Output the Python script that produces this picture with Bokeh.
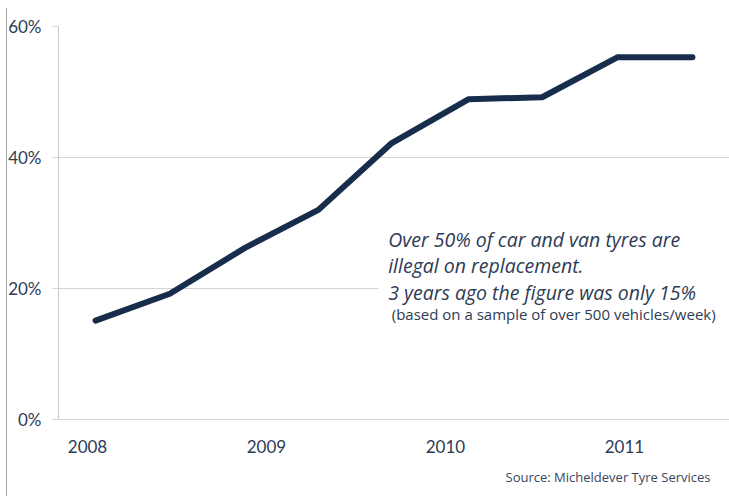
from bokeh.plotting import figure
from bokeh.models import Range1d, FixedTicker, Label, BoxAnnotation, Title
from bokeh.embed import file_html
from bokeh.resources import INLINE

# data
period_x = [2008.045, 2008.46, 2008.88, 2009.29, 2009.70, 2010.13, 2010.54, 2010.96, 2011.38]
illegal_pct = [15.1, 19.2, 26.2, 32.0, 42.2, 48.9, 49.2, 55.3, 55.3]
year_ticks = [2008, 2009, 2010, 2011]
year_labels = ["2008", "2009", "2010", "2011"]
pct_ticks = [0, 20, 40, 60]
pct_labels = ["0%", "20%", "40%", "60%"]
note_lines = ["Over 50% of car and van tyres are",
              "illegal on replacement.",
              "3 years ago the figure was only 15%"]
note_small = "(based on a sample of over 500 vehicles/week)"
source_text = "Source: Micheldever Tyre Services"

TEXT = "#2e3b55"
FONT = "Lato"
NOTE_FONT = "Open Sans"

p = figure(width=729, height=496, output_backend="svg", toolbar_location=None,
           x_range=Range1d(2007.838, 2011.587), y_range=Range1d(0, 60),
           min_border_left=58, min_border_top=26, min_border_bottom=77,
           min_border_right=0)
p.outline_line_color = None
p.background_fill_color = "white"
p.border_fill_color = None
p.styles = {"background": "linear-gradient(#a6a6a6,#a6a6a6) 6px 8px / 1px 100% no-repeat, white"}

p.xgrid.visible = False
p.ygrid.grid_line_color = "#d4d4d4"
p.ygrid.grid_line_width = 1

p.yaxis.ticker = FixedTicker(ticks=pct_ticks)
p.yaxis.major_label_overrides = {t: l for t, l in zip(pct_ticks, pct_labels)}
p.yaxis.axis_line_color = "#c8c8c8"
p.yaxis.major_tick_line_color = "#d4d4d4"
p.yaxis.major_tick_out = 6
p.yaxis.major_tick_in = 0
p.yaxis.minor_tick_line_color = None
p.yaxis.major_label_standoff = 11
p.yaxis.major_label_text_font = FONT
p.yaxis.major_label_text_font_size = "17px"
p.yaxis.major_label_text_color = TEXT

p.xaxis.ticker = FixedTicker(ticks=year_ticks)
p.xaxis.major_label_overrides = {t: l for t, l in zip(year_ticks, year_labels)}
p.xaxis.axis_line_color = "#d4d4d4"
p.xaxis.major_tick_line_color = None
p.xaxis.minor_tick_line_color = None
p.xaxis.major_label_standoff = 14
p.xaxis.major_label_text_font = FONT
p.xaxis.major_label_text_font_size = "17px"
p.xaxis.major_label_text_color = TEXT

p.line(period_x, illegal_pct, line_color="#172d4b", line_width=6,
       line_cap="round", line_join="round")

# white box behind the note (hides the 20% gridline there)
p.add_layout(BoxAnnotation(left=2009.626, bottom=18.9, top=21.0,
                           fill_color="white", fill_alpha=1.0, line_alpha=0))

ys = [27.48, 23.51, 19.39]
for txt, yy in zip(note_lines, ys):
    p.add_layout(Label(x=2009.68, y=yy, text=txt, text_font=NOTE_FONT,
                       text_font_style="italic", text_font_size="19.5px",
                       text_color=TEXT, text_baseline="alphabetic"))
p.add_layout(Label(x=2009.70, y=16.18, text=note_small, text_font=NOTE_FONT,
                   text_font_size="15px", text_color=TEXT,
                   text_baseline="alphabetic"))

src = Title(text=source_text, align="right", offset=19, standoff=20,
            text_font=NOTE_FONT, text_font_size="13px", text_font_style="normal",
            text_color="#3a4660")
p.add_layout(src, "below")

open("out.html", "w").write(file_html(p, INLINE))
